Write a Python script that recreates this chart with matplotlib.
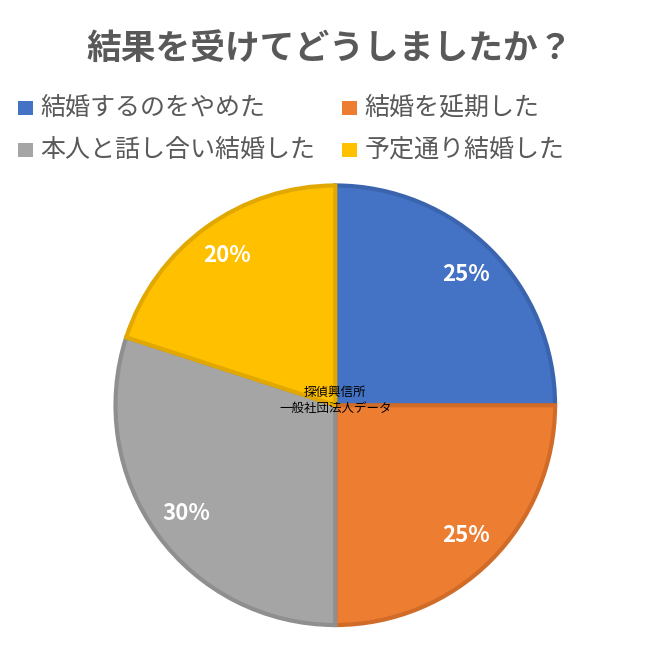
import matplotlib
matplotlib.use("Agg")
import matplotlib.pyplot as plt
from matplotlib.patches import Rectangle

plt.rcParams["font.family"] = "Noto Sans CJK JP"

title = "結果を受けてどうしましたか？"
labels = ["結婚するのをやめた", "結婚を延期した", "本人と話し合い結婚した", "予定通り結婚した"]
values = [25, 25, 30, 20]
colors = ["#4472C4", "#ED7D31", "#A5A5A5", "#FFC000"]
edges = ["#3A64AE", "#D06B28", "#8F8F8F", "#E0A800"]

fig = plt.figure(figsize=(6.6, 6.6), dpi=100)
fig.text(0.5, 1 - 48 / 660, title, ha="center", va="center", fontsize=25, fontweight="bold", color="#595959")

pos = [(18 / 660, 1 - 108 / 660), (342 / 660, 1 - 108 / 660),
       (18 / 660, 1 - 150 / 660), (342 / 660, 1 - 150 / 660)]
for (x, y), lab, c in zip(pos, labels, colors):
    fig.patches.append(Rectangle((x, y - 0.011), 0.022, 0.022, transform=fig.transFigure,
                                 facecolor=c, edgecolor="none"))
    fig.text(x + 0.034, y, lab, ha="left", va="center", fontsize=18, color="#595959")

ax = fig.add_axes([0.508 - 0.333, 0.386 - 0.333, 0.666, 0.666])
wedges, texts, autotexts = ax.pie(values, colors=colors, startangle=90, counterclock=False,
                                  autopct="%d%%", pctdistance=0.84,
                                  textprops=dict(color="white", fontsize=16, fontweight="bold"))
for w, e in zip(wedges, edges):
    w.set_edgecolor(e)
    w.set_linewidth(3)
    w.set_clip_on(False)
ax.set_xlim(-1, 1)
ax.set_ylim(-1, 1)
ax.set_aspect("equal")
ax.text(0, 0.02, "探偵興信所\n一般社団法人データ", ha="center", va="center", fontsize=9,
        color="black", linespacing=1.3)
fig.savefig("out.png", dpi=100, facecolor="white")
